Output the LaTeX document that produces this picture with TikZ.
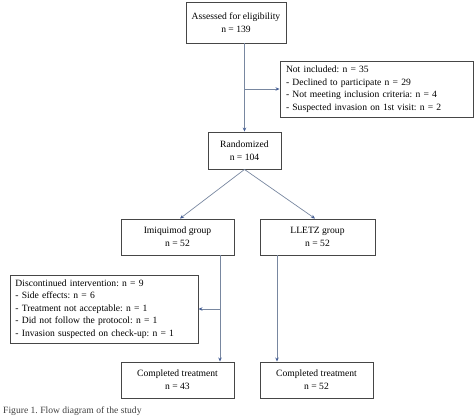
\documentclass[tikz,border=0pt]{standalone}
\usepackage{fontspec}
\setmainfont{Liberation Serif}
\frenchspacing
\usetikzlibrary{arrows.meta}
\definecolor{boxc}{RGB}{70,70,70}
\definecolor{linec}{RGB}{120,135,160}
\definecolor{tipc}{RGB}{70,95,150}
\tikzset{
  cbox/.style={draw=boxc, line width=0.9pt, align=center, inner sep=0pt,
    font=\fontsize{9.6}{13}\selectfont, text=black},
  lbox/.style={draw=boxc, line width=0.9pt, align=left, inner sep=0pt,
    font=\fontsize{9.6}{12.6}\selectfont, text=black},
  conn/.style={draw=linec, line width=0.7pt},
  arr/.style={conn, -{Stealth[length=4pt,width=3.5pt,fill=tipc,color=tipc]}}
}
\begin{document}
\begin{tikzpicture}[x=1pt,y=-1pt]
\useasboundingbox (0,0) rectangle (474,416);
\clip (0,0) rectangle (474,416);
\node[cbox, minimum width=100pt, minimum height=41pt] (ass) at (236,22.5)
  {Assessed for eligibility\\n = 139};
\node[lbox, minimum width=193pt, minimum height=56pt, text width=181pt] (not) at (376.5,89)
  {Not included: n = 35\\- Declined to participate n = 29\\- Not meeting inclusion criteria: n = 4\\- Suspected invasion on 1st visit: n = 2};
\node[cbox, minimum width=73pt, minimum height=37pt] (rand) at (244.5,150.5)
  {Randomized\\n = 104};
\node[cbox, minimum width=113pt, minimum height=36pt] (imi) at (177.5,237)
  {Imiquimod group\\n = 52};
\node[cbox, minimum width=115pt, minimum height=36pt] (llz) at (317.5,237)
  {LLETZ group\\n = 52};
\node[lbox, minimum width=188pt, minimum height=68pt, text width=177pt] (disc) at (104,309)
  {Discontinued intervention: n = 9\\- Side effects: n = 6\\- Treatment not acceptable: n = 1\\- Did not follow the protocol: n = 1\\- Invasion suspected on check-up: n = 1};
\node[cbox, minimum width=113pt, minimum height=36pt] (compl) at (177.5,380)
  {Completed treatment\\n = 43};
\node[cbox, minimum width=113pt, minimum height=36pt] (compr) at (316.5,380)
  {Completed treatment\\n = 52};
% connectors
\draw[arr] (rand.north |- ass.south) -- (rand.north);
\draw[arr] (rand.north |- not.west) -- (not.west);
\draw[arr] (rand.south) -- ([xshift=2.5pt]imi.north);
\draw[arr] (rand.south) -- ([xshift=-2.5pt]llz.north);
\coordinate (il) at ([xshift=42.5pt]imi.south);
\draw[arr] (il) -- (il |- compl.north);
\draw[arr] (il |- disc.east) -- (disc.east);
\coordinate (lr) at ([xshift=-40.5pt]llz.south);
\draw[arr] (lr) -- (lr |- compr.north);
% caption
\node[anchor=base west, inner sep=0pt, text=black!75, font=\fontsize{9.6}{12}\selectfont] (cap) at (3,413)
  {Figure 1. Flow diagram of the study};
\end{tikzpicture}
\end{document}
